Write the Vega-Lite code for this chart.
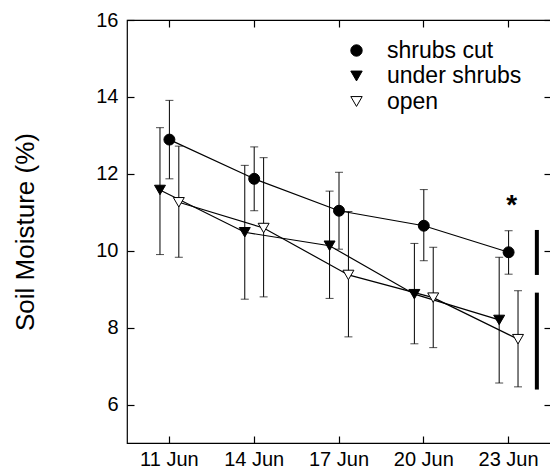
{
  "$schema": "https://vega.github.io/schema/vega-lite/v6.json",
  "width": 424,
  "height": 423,
  "autosize": {"type": "none"},
  "padding": {"left": 127, "top": 20, "right": 0, "bottom": 26},
  "background": "white",
  "config": {
    "font": "Liberation Sans",
    "view": {"stroke": "black", "strokeWidth": 1.2},
    "axis": {"grid": false, "domain": false, "ticks": true, "tickColor": "#000000", "tickOpacity": 1, "labelColor": "black", "titleColor": "black", "tickSize": 7, "tickWidth": 1.2, "offset": -7, "zindex": 1}
  },
  "datasets": {
    "main": [
      {"date": "11 Jun", "series": "shrubs cut", "mean": 12.89, "lo": 11.87, "hi": 13.91},
      {"date": "14 Jun", "series": "shrubs cut", "mean": 11.87, "lo": 11.04, "hi": 12.70},
      {"date": "17 Jun", "series": "shrubs cut", "mean": 11.04, "lo": 10.04, "hi": 12.04},
      {"date": "20 Jun", "series": "shrubs cut", "mean": 10.65, "lo": 9.74, "hi": 11.59},
      {"date": "23 Jun", "series": "shrubs cut", "mean": 9.96, "lo": 9.39, "hi": 10.52},
      {"date": "11 Jun", "series": "under shrubs", "mean": 11.58, "lo": 9.90, "hi": 13.20},
      {"date": "14 Jun", "series": "under shrubs", "mean": 10.48, "lo": 8.74, "hi": 12.22},
      {"date": "17 Jun", "series": "under shrubs", "mean": 10.13, "lo": 8.76, "hi": 11.55},
      {"date": "20 Jun", "series": "under shrubs", "mean": 8.87, "lo": 7.58, "hi": 10.19},
      {"date": "23 Jun", "series": "under shrubs", "mean": 8.20, "lo": 6.56, "hi": 9.83},
      {"date": "11 Jun", "series": "open", "mean": 11.26, "lo": 9.83, "hi": 12.72},
      {"date": "14 Jun", "series": "open", "mean": 10.59, "lo": 8.80, "hi": 12.42},
      {"date": "17 Jun", "series": "open", "mean": 9.37, "lo": 7.76, "hi": 11.02},
      {"date": "20 Jun", "series": "open", "mean": 8.78, "lo": 7.48, "hi": 10.09},
      {"date": "23 Jun", "series": "open", "mean": 7.70, "lo": 6.46, "hi": 8.96}
    ],
    "sig": [
      {"date": "23 Jun", "series": "sig", "lo": 9.37, "hi": 10.54},
      {"date": "23 Jun", "series": "sig", "lo": 6.39, "hi": 8.91}
    ],
    "star": [
      {"date": "23 Jun", "series": "shrubs cut", "value": 11.35, "label": "*"}
    ]
  },
  "resolve": {"axis": {"x": "independent", "y": "independent"}},
  "layer": [
    {
      "data": {"name": "main"},
      "mark": {"type": "rule", "color": "black", "strokeWidth": 1},
      "encoding": {
        "x": {"field": "date", "type": "ordinal", "scale": {"domain": ["11 Jun", "14 Jun", "17 Jun", "20 Jun", "23 Jun"], "paddingInner": 0, "paddingOuter": 0},
          "axis": {"orient": "top", "labels": false, "title": null}},
        "xOffset": {"field": "series", "type": "nominal", "scale": {"domain": ["p0", "p1", "under shrubs", "shrubs cut", "open", "p2", "sig"], "paddingInner": 0, "paddingOuter": 1.6}},
        "y": {"field": "lo", "type": "quantitative", "scale": {"domain": [5, 16], "nice": false, "zero": false},
          "axis": {"orient": "right", "labels": false, "title": null, "values": [6, 8, 10, 12, 14, 16]}},
        "y2": {"field": "hi"}
      }
    },
    {
      "data": {"name": "main"},
      "mark": {"type": "tick", "color": "black", "thickness": 1, "size": 8, "orient": "horizontal"},
      "encoding": {
        "x": {"field": "date", "type": "ordinal", "axis": null},
        "xOffset": {"field": "series", "type": "nominal"},
        "y": {"field": "lo", "type": "quantitative", "axis": null}
      }
    },
    {
      "data": {"name": "main"},
      "mark": {"type": "tick", "color": "black", "thickness": 1, "size": 8, "orient": "horizontal"},
      "encoding": {
        "x": {"field": "date", "type": "ordinal", "axis": null},
        "xOffset": {"field": "series", "type": "nominal"},
        "y": {"field": "hi", "type": "quantitative", "axis": null}
      }
    },
    {
      "data": {"name": "main"},
      "mark": {"type": "line", "color": "black", "strokeWidth": 1.2},
      "encoding": {
        "x": {"field": "date", "type": "ordinal", "axis": null},
        "xOffset": {"field": "series", "type": "nominal"},
        "y": {"field": "mean", "type": "quantitative", "axis": null},
        "detail": {"field": "series", "type": "nominal"}
      }
    },
    {
      "data": {"name": "main"},
      "mark": {"type": "point", "filled": true, "strokeWidth": 1, "size": 120, "opacity": 1},
      "encoding": {
        "x": {"field": "date", "type": "ordinal",
          "axis": {"orient": "bottom", "title": null, "labelFontSize": 20, "labelAngle": 0, "labelPadding": 6}},
        "xOffset": {"field": "series", "type": "nominal"},
        "y": {"field": "mean", "type": "quantitative",
          "axis": {"orient": "left", "values": [6, 8, 10, 12, 14, 16], "labelFontSize": 20, "labelPadding": 9, "title": "Soil Moisture (%)", "titleFontSize": 26, "titleFontWeight": "normal", "titlePadding": 57}},
        "shape": {"field": "series", "type": "nominal", "scale": {"domain": ["shrubs cut", "under shrubs", "open"], "range": ["circle", "triangle-down", "triangle-down"]},
          "legend": {"title": null, "orient": "none", "legendX": 218, "legendY": 19, "labelFontSize": 23, "symbolSize": 130, "rowPadding": 1.5, "labelOffset": 19, "symbolStrokeWidth": 1, "labelColor": "black"}},
        "fill": {"field": "series", "type": "nominal", "scale": {"domain": ["shrubs cut", "under shrubs", "open"], "range": ["black", "black", "white"]},
          "legend": {"title": null, "orient": "none", "legendX": 218, "legendY": 19, "labelFontSize": 23, "symbolSize": 130, "rowPadding": 1.5, "labelOffset": 19, "symbolStrokeWidth": 1, "labelColor": "black"}},
        "stroke": {"field": "series", "type": "nominal", "scale": {"domain": ["shrubs cut", "under shrubs", "open"], "range": ["black", "black", "black"]},
          "legend": {"title": null, "orient": "none", "legendX": 218, "legendY": 19, "labelFontSize": 23, "symbolSize": 130, "rowPadding": 1.5, "labelOffset": 19, "symbolStrokeWidth": 1, "labelColor": "black"}}
      }
    },
    {
      "data": {"name": "sig"},
      "mark": {"type": "rule", "color": "black", "strokeWidth": 4},
      "encoding": {
        "x": {"field": "date", "type": "ordinal", "axis": null},
        "xOffset": {"field": "series", "type": "nominal"},
        "y": {"field": "lo", "type": "quantitative", "axis": null},
        "y2": {"field": "hi"}
      }
    },
    {
      "data": {"name": "star"},
      "mark": {"type": "text", "fontSize": 28, "fontWeight": "bold", "color": "black", "baseline": "middle", "dx": 3, "dy": 7},
      "encoding": {
        "x": {"field": "date", "type": "ordinal", "axis": null},
        "xOffset": {"field": "series", "type": "nominal"},
        "y": {"field": "value", "type": "quantitative", "axis": null},
        "text": {"field": "label"}
      }
    }
  ]
}
